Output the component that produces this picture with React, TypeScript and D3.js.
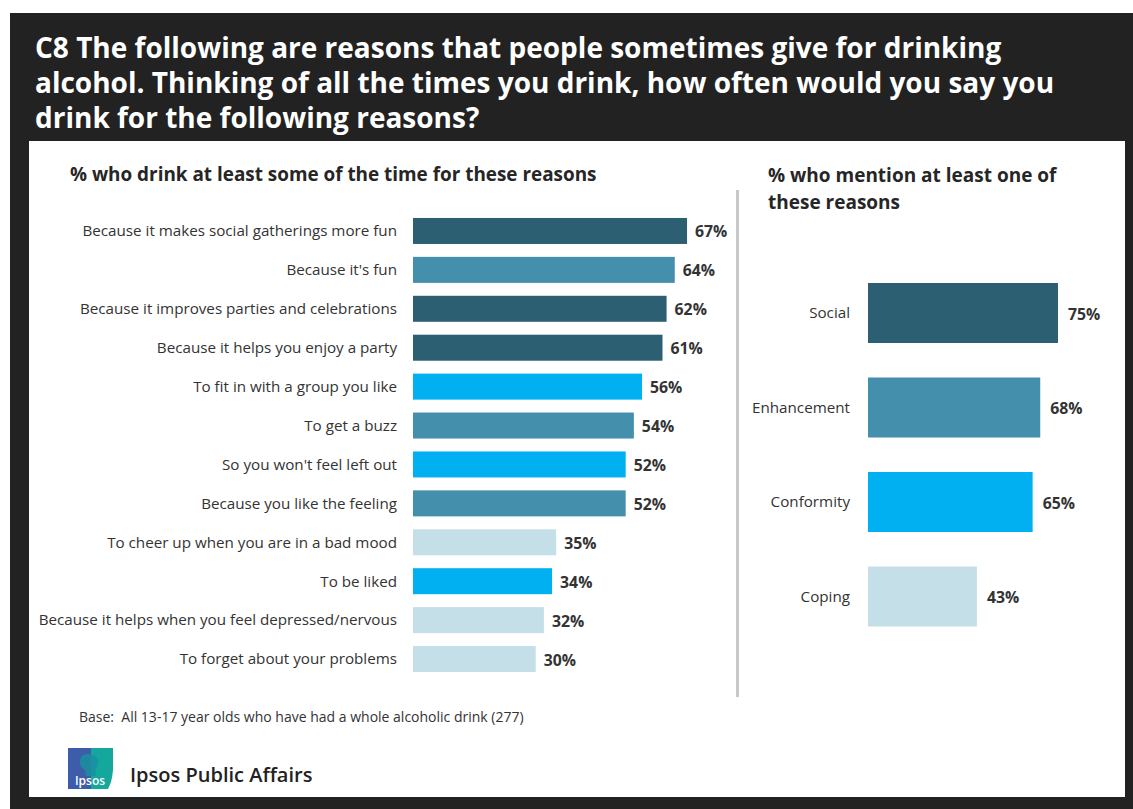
import React from "react";
import * as d3 from "d3";

const W = 1133;
const H = 809;

const titleLines = [
  "C8 The following are reasons that people sometimes give for drinking",
  "alcohol. Thinking of all the times you drink, how often would you say you",
  "drink for the following reasons?",
];

const leftHeader = "% who drink at least some of the time for these reasons";
const rightHeader = ["% who mention at least one of", "these reasons"];

const reasons = [
  "Because it makes social gatherings more fun",
  "Because it's fun",
  "Because it improves parties and celebrations",
  "Because it helps you enjoy a party",
  "To fit in with a group you like",
  "To get a buzz",
  "So you won't feel left out",
  "Because you like the feeling",
  "To cheer up when you are in a bad mood",
  "To be liked",
  "Because it helps when you feel depressed/nervous",
  "To forget about your problems",
];
const reasonValues = [67, 64, 62, 61, 56, 54, 52, 52, 35, 34, 32, 30];
const reasonGroups = [
  "Social", "Enhancement", "Social", "Social", "Conformity", "Enhancement",
  "Conformity", "Enhancement", "Coping", "Conformity", "Coping", "Coping",
];

const groups = ["Social", "Enhancement", "Conformity", "Coping"];
const groupValues = [75, 68, 65, 43];

const groupColors = ["#2B5F71", "#438FAC", "#00B0F0", "#C5DFE8"];

const baseNote = "Base:  All 13-17 year olds who have had a whole alcoholic drink (277)";
const brand = "Ipsos Public Affairs";

const FONT = "'Open Sans', 'Noto Sans', sans-serif";

export default function App() {
  const color = d3.scaleOrdinal<string, string>().domain(groups).range(groupColors);

  // Left chart scales
  const xL = d3.scaleLinear().domain([0, 100]).range([413, 413 + 409]);
  const yL = d3
    .scaleBand<string>()
    .domain(reasons)
    .range([211.5, 678.5])
    .paddingInner(0.332)
    .paddingOuter(0.166);

  // Right chart scales
  const xR = d3.scaleLinear().domain([0, 100]).range([868, 868 + 253.3]);
  const yR = d3
    .scaleBand<string>()
    .domain(groups)
    .range([265.75, 643.75])
    .paddingInner(0.365)
    .paddingOuter(0.1825);

  return (
    <svg
      width={W}
      height={H}
      style={{ position: "absolute", left: 0, top: 0, display: "block" }}
      fontFamily={FONT}
    >
      <rect x={0} y={0} width={W} height={H} fill="#ffffff" />
      <rect x={10} y={13} width={W - 10} height={H - 13} fill="#222222" />
      <rect x={29} y={141} width={1125 - 29} height={797 - 141} fill="#ffffff" />

      {titleLines.map((t, i) => (
        <text
          key={i}
          x={35}
          y={58 + i * 35}
          fill="#ffffff"
          fontSize={28}
          fontWeight={700}
        >
          {t}
        </text>
      ))}

      <text x={70} y={181} fontSize={18.9} fontWeight={700} fill="#262626">
        {leftHeader}
      </text>

      {reasons.map((r, i) => {
        const y = yL(r)!;
        const bw = yL.bandwidth();
        return (
          <g key={r}>
            <text
              x={397}
              y={y + bw / 2}
              dy="0.35em"
              textAnchor="end"
              fontSize={15.2}
              fill="#333333"
            >
              {r}
            </text>
            <rect
              x={xL(0)}
              y={y}
              width={xL(reasonValues[i]) - xL(0)}
              height={bw}
              fill={color(reasonGroups[i])}
            />
            <text
              x={xL(reasonValues[i]) + 8}
              y={y + bw / 2 + 1}
              dy="0.35em"
              fontSize={15.8}
              fontWeight={700}
              fill="#333333"
            >
              {reasonValues[i]}%
            </text>
          </g>
        );
      })}

      <rect x={736} y={190} width={3} height={507} fill="#C8C8C8" />

      {rightHeader.map((t, i) => (
        <text
          key={i}
          x={768}
          y={182 + i * 27}
          fontSize={19}
          fontWeight={700}
          fill="#262626"
        >
          {t}
        </text>
      ))}

      {groups.map((g, i) => {
        const y = yR(g)!;
        const bw = yR.bandwidth();
        return (
          <g key={g}>
            <text
              x={850}
              y={y + bw / 2}
              dy="0.35em"
              textAnchor="end"
              fontSize={15.2}
              fill="#333333"
            >
              {g}
            </text>
            <rect
              x={xR(0)}
              y={y}
              width={xR(groupValues[i]) - xR(0)}
              height={bw}
              fill={color(g)}
            />
            <text
              x={xR(groupValues[i]) + 10}
              y={y + bw / 2 + 1}
              dy="0.35em"
              fontSize={15.8}
              fontWeight={700}
              fill="#333333"
            >
              {groupValues[i]}%
            </text>
          </g>
        );
      })}

      <text x={79} y={722} fontSize={14} fill="#333333" style={{ whiteSpace: "pre" }}>
        {baseNote}
      </text>

      {/* Ipsos logo */}
      <g>
        <rect x={68} y={748} width={23} height={41} fill="#3D5DAA" />
        <path d="M91,748 L113,748 L113,770 Q112,782 108,789 L91,789 Z" fill="#14A79C" />
        <path
          d="M88,754 Q80,754 80,762 Q80,768 85,770 L86,776 L96,776 L95,770 Q99,766 98,760 Q96,754 88,754 Z"
          fill="#1A8FA0"
          opacity={0.85}
        />
        <text x={90} y={785} textAnchor="middle" fontSize={12} fontWeight={600} fill="#ffffff">
          Ipsos
        </text>
      </g>
      <text x={130} y={782} fontSize={20} fontWeight={600} fill="#222222">
        {brand}
      </text>
    </svg>
  );
}
